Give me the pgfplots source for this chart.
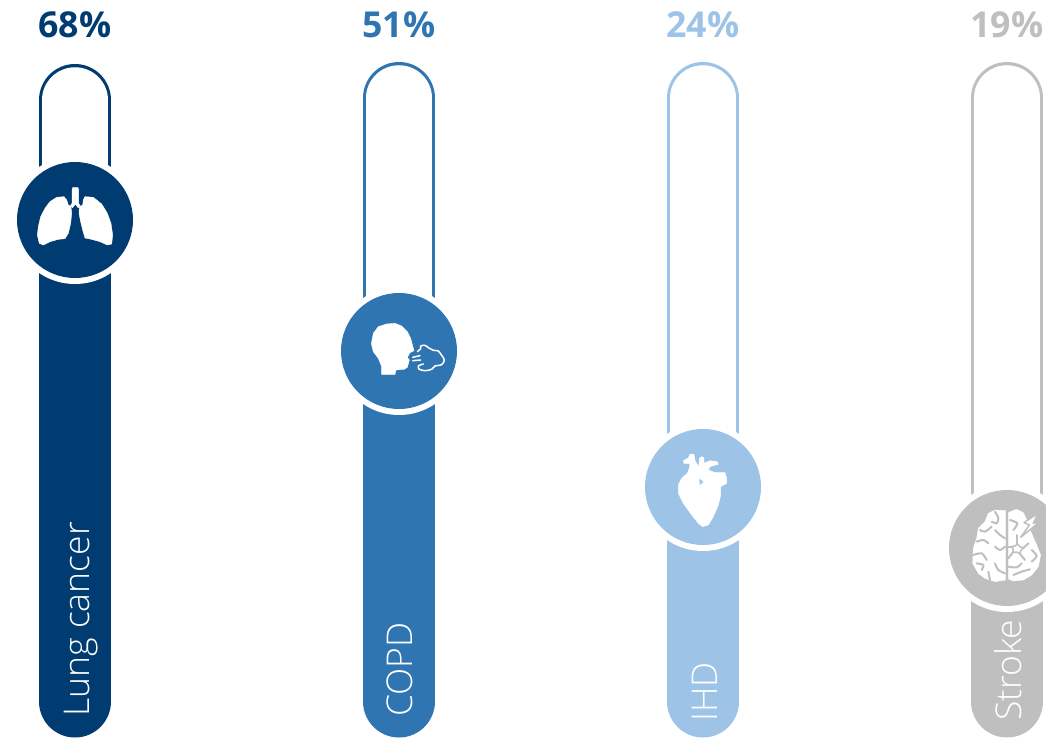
\documentclass[border=0pt]{standalone}
\usepackage{pgfplots}
\pgfplotsset{compat=1.18}
\usepackage{fontspec}
\setmainfont{Open Sans}
\newfontfamily\lightfont{Open Sans Light}
\definecolor{lung}{HTML}{003C71}
\definecolor{copd}{HTML}{2E75B2}
\definecolor{ihd}{HTML}{9DC3E6}
\definecolor{strokegrey}{HTML}{BFBFBF}

% One gauge: open track, filled part, ring and disc at the fill level.
% #1 colour, #2 x centre, #3 fill level, #4 centre of the track's rounded top
\newcommand\gauge[4]{%
  \addplot[#1,line width=72pt,line cap=round] coordinates {(#2,#3)(#2,#4)};
  \addplot[white,line width=65.5pt,line cap=round] coordinates {(#2,#3)(#2,#4)};
  \addplot[#1,line width=72pt,line cap=round] coordinates {(#2,35.5)(#2,#3)};
  \addplot[only marks,mark=*,mark size=64,color=white,mark options={draw opacity=0}] coordinates {(#2,#3)};
  \addplot[only marks,mark=*,mark size=58,color=#1,mark options={draw opacity=0}] coordinates {(#2,#3)};
}
\pgfplotsset{
  % icon outlines are listed at three times their size, from a local origin
  icon/.style 2 args={x filter/.code={\pgfmathparse{##1/3+#1}},y filter/.code={\pgfmathparse{737-##1/3-#2}},mark=none},
  glyph/.style 2 args={icon={#1}{#2},fill=white,draw=white,line width=0.4pt,line join=round},
  crease/.style n args={3}{icon={#2}{#3},draw=#1,fill=none,line width=2pt,line cap=round,line join=round,smooth},
}
\newcommand\pct[3]{\node[text=#1,font=\fontsize{35.7}{36}\selectfont\bfseries,inner sep=0pt] at (axis cs:#2,712) {#3};}
\newcommand\cat[3]{\node[text=white,font=\fontsize{35.5}{36}\lightfont,rotate=90,anchor=base west,inner sep=0pt] at (axis cs:#1,#2) {#3};}

\begin{document}
\begin{tikzpicture}
\begin{axis}[
  hide axis,scale only axis,width=1046pt,height=737pt,
  xmin=0,xmax=1046,ymin=0,ymax=737,clip=true,clip marker paths=true]

\gauge{lung}{75}{517}{637}
\gauge{copd}{399}{386}{639}
\gauge{ihd}{703}{250}{639}
\gauge{strokegrey}{1007}{189}{639}

\pct{lung}{75}{68\%}
\pct{copd}{399}{51\%}
\pct{ihd}{703}{24\%}
\pct{strokegrey}{1007}{19\%}

\cat{89}{20}{Lung cancer}
\cat{412}{20}{COPD}
\cat{717}{15}{IHD}
\cat{1021}{16}{Stroke}

% lungs
\addplot[glyph={0}{0}] coordinates {(192,590)(170,592)(150,605)(135,625)(122,650)(115,680)(112,705)(118,730)(130,735)(150,725)(175,718)(195,716)(205,700)(212,670)(215,640)(213,620)(205,615)(200,600)} --cycle;
\addplot[glyph={0}{0}] coordinates {(255,590)(280,592)(305,612)(322,640)(333,670)(338,705)(335,732)(322,735)(300,725)(275,718)(255,714)(248,690)(242,665)(237,640)(238,622)(248,615)(250,600)} --cycle;
\addplot[glyph={0}{0}] coordinates {(218,563)(234,563)(236,570)(236,610)(241,618)(234,623)(226,612)(218,623)(211,618)(216,610)(216,570)} --cycle;

% head and breath
\addplot[glyph={330}{280}] coordinates {(125,185)(130,160)(145,140)(170,132)(195,130)(215,138)(232,155)(242,175)(246,190)(252,212)(240,218)(232,232)(238,240)(232,262)(222,268)(198,270)(195,283)(155,283)(155,260)(145,235)(130,215)(125,195)} --cycle;
\addplot[crease={white}{330}{280},line width=1.5pt] coordinates {(262,215)(272,206)(272,198)(285,196)(298,205)(310,211)(325,213)(335,226)(343,240)(335,254)(315,258)(305,268)(285,272)(268,268)(265,258)(280,252)};
\addplot[crease={white}{330}{280},line width=1.5pt] coordinates {(248,232)(270,227)};
\addplot[crease={white}{330}{280},line width=1.5pt] coordinates {(248,242)(272,240)};

% heart
\addplot[glyph={630}{420}] coordinates {(160,122)(175,114)(180,102)(192,103)(196,125)(207,140)(208,115)(215,110)(222,113)(222,130)(240,122)(262,125)(265,133)(240,140)(235,150)(255,158)(285,158)(290,175)(290,190)(272,200)(272,225)(265,255)(250,290)(235,315)(218,320)(205,310)(185,285)(160,250)(145,220)(145,195)(155,175)(172,160)(178,145)(180,130)(162,130)} --cycle;
\addplot[icon={630}{420},fill=ihd,draw=none] coordinates {(208,176)(220,186)(209,195)} --cycle;

% brain with a flash
\addplot[glyph={930}{480}] coordinates {(226,92)(195,90)(175,100)(165,125)(145,145)(140,175)(130,205)(128,250)(145,280)(165,295)(195,305)(226,300)} --cycle;
\addplot[glyph={930}{480}] coordinates {(236,97)(260,88)(280,98)(290,120)(300,150)(320,195)(332,225)(325,260)(305,285)(280,300)(250,303)(236,297)} --cycle;
\addplot[icon={930}{480},fill=white,draw=strokegrey,line width=1.5pt,line join=round] coordinates {(324,100)(282,128)(298,135)(272,172)(330,125)(310,130)} --cycle;
\addplot[crease={strokegrey}{930}{480}] coordinates {(195,95)(205,115)(200,130)(185,125)};
\addplot[crease={strokegrey}{930}{480}] coordinates {(150,150)(165,155)(185,140)};
\addplot[crease={strokegrey}{930}{480}] coordinates {(140,185)(160,180)(175,190)};
\addplot[crease={strokegrey}{930}{480}] coordinates {(195,150)(210,165)(225,175)};
\addplot[crease={strokegrey}{930}{480}] coordinates {(195,200)(210,210)(225,200)};
\addplot[crease={strokegrey}{930}{480}] coordinates {(130,225)(155,220)(170,240)};
\addplot[crease={strokegrey}{930}{480}] coordinates {(140,250)(160,255)(155,270)};
\addplot[crease={strokegrey}{930}{480}] coordinates {(195,250)(205,270)(225,280)};
\addplot[crease={strokegrey}{930}{480}] coordinates {(175,275)(180,300)};
\addplot[crease={strokegrey}{930}{480}] coordinates {(240,120)(262,130)(250,150)};
\addplot[icon={930}{480},draw=strokegrey,line width=1.5pt,line join=round] coordinates {(262,192)(270,200)(280,204)(272,212)(270,222)(260,216)(248,218)(250,208)(245,200)(255,198)} --cycle;
\addplot[crease={strokegrey}{930}{480}] coordinates {(262,165)(262,192)};
\addplot[crease={strokegrey}{930}{480}] coordinates {(236,200)(245,200)};
\addplot[crease={strokegrey}{930}{480}] coordinates {(235,235)(248,218)};
\addplot[crease={strokegrey}{930}{480}] coordinates {(270,222)(285,240)};
\addplot[crease={strokegrey}{930}{480}] coordinates {(280,204)(295,190)};
\addplot[crease={strokegrey}{930}{480}] coordinates {(235,260)(260,262)(275,250)};
\addplot[crease={strokegrey}{930}{480}] coordinates {(250,285)(275,275)(300,268)};
\addplot[crease={strokegrey}{930}{480}] coordinates {(305,210)(320,228)(305,245)};
\end{axis}
\pgfresetboundingbox
\path[use as bounding box] (0,0) rectangle (1046pt,737pt);
\end{tikzpicture}
\end{document}
